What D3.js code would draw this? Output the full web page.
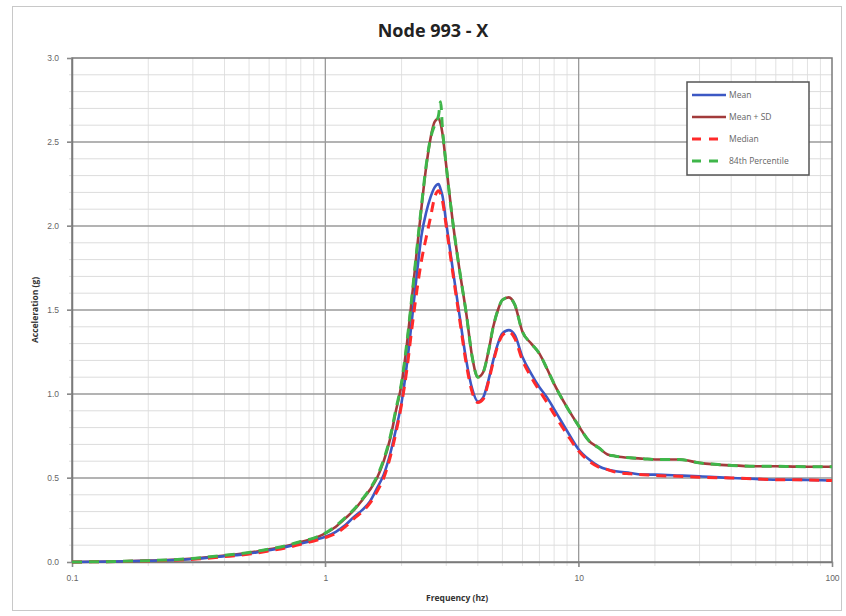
<!DOCTYPE html>
<html><head><meta charset="utf-8">
<script src="https://cdn.jsdelivr.net/npm/d3@7"></script>
<style>
body{margin:0;background:#fff;}
svg{display:block;font-family:"Open Sans","Liberation Sans",sans-serif;}
</style></head>
<body>
<svg id="chart" width="846" height="616"></svg>
<script>
const title = "Node 993 - X";
const xLabel = "Frequency (hz)";
const yLabel = "Acceleration (g)";
const xTickValues = [0.1, 1, 10, 100];
const xTickLabels = ["0.1", "1", "10", "100"];
const yTickValues = [0, 0.5, 1.0, 1.5, 2.0, 2.5, 3.0];
const seriesNames = ["Mean", "Mean + SD", "Median", "84th Percentile"];

const freq = [0.1,0.15,0.2,0.3,0.4,0.5,0.6,0.7,0.8,0.9,1.0,1.1,1.2,1.3,1.4,1.5,1.6,1.7,1.8,1.9,2.0,2.1,2.2,2.3,2.4,2.5,2.6,2.7,2.8,2.85,2.9,3.0,3.2,3.4,3.6,3.8,4.0,4.2,4.4,4.6,4.8,5.0,5.3,5.6,6.0,6.5,7.0,7.5,8.0,9.0,10,11,12,13,14,16,18,20,25,30,40,50,60,70,80,100];

const meanVals = [0,0.003,0.007,0.018,0.035,0.05,0.07,0.09,0.11,0.13,0.15,0.18,0.22,0.27,0.31,0.36,0.44,0.52,0.64,0.79,0.95,1.18,1.45,1.72,1.95,2.08,2.17,2.23,2.25,2.22,2.18,2.02,1.72,1.45,1.2,1.03,0.955,0.98,1.08,1.2,1.3,1.36,1.38,1.35,1.22,1.12,1.04,0.98,0.91,0.78,0.67,0.61,0.57,0.55,0.54,0.53,0.52,0.52,0.515,0.51,0.50,0.495,0.49,0.49,0.488,0.485];

const meanSDVals = [0,0.003,0.008,0.02,0.038,0.055,0.075,0.095,0.12,0.14,0.17,0.21,0.26,0.31,0.37,0.43,0.5,0.6,0.73,0.9,1.06,1.3,1.58,1.86,2.12,2.35,2.52,2.62,2.64,2.61,2.55,2.36,2.0,1.72,1.48,1.22,1.10,1.13,1.25,1.40,1.50,1.56,1.575,1.53,1.37,1.30,1.24,1.15,1.06,0.92,0.81,0.72,0.68,0.64,0.63,0.62,0.615,0.61,0.61,0.59,0.575,0.57,0.57,0.568,0.567,0.567];

const medianVals = [0,0.003,0.006,0.016,0.032,0.047,0.066,0.085,0.105,0.125,0.145,0.17,0.21,0.26,0.30,0.35,0.42,0.50,0.62,0.77,0.94,1.15,1.40,1.62,1.80,1.93,2.05,2.17,2.21,2.19,2.15,2.0,1.70,1.43,1.18,1.01,0.95,0.97,1.07,1.19,1.29,1.35,1.37,1.33,1.20,1.10,1.02,0.95,0.88,0.76,0.66,0.60,0.565,0.55,0.535,0.525,0.52,0.515,0.51,0.505,0.50,0.495,0.49,0.49,0.488,0.485];

const pct84Vals = [0,0.003,0.008,0.021,0.04,0.057,0.077,0.097,0.122,0.142,0.172,0.215,0.265,0.315,0.375,0.435,0.51,0.61,0.74,0.91,1.07,1.31,1.59,1.87,2.13,2.36,2.52,2.60,2.66,2.74,2.58,2.36,2.0,1.72,1.48,1.22,1.10,1.13,1.25,1.40,1.50,1.56,1.575,1.53,1.37,1.30,1.24,1.15,1.06,0.92,0.81,0.72,0.68,0.64,0.63,0.62,0.615,0.61,0.61,0.59,0.575,0.57,0.57,0.568,0.567,0.567];

(function () {
const pL = 72, pR = 832, pT = 58, pB = 562;
const svg = d3.select("#chart");

svg.append("rect").attr("x", 12.5).attr("y", 6.5).attr("width", 829).attr("height", 604)
  .attr("fill", "#fff").attr("stroke", "#c8c8c8").attr("stroke-width", 1);

const x = d3.scaleLog().domain([0.1, 100]).range([pL, pR]);
const y = d3.scaleLinear().domain([0, 3]).range([pB, pT]);

const minorX = [];
[0.1, 1, 10].forEach(d => { for (let k = 2; k <= 9; k++) minorX.push(+(d * k).toFixed(3)); });
const minorY = d3.range(0, 31).map(i => i / 10).filter(v => Math.round(v * 10) % 5 !== 0);

const g = svg.append("g");
g.selectAll(".mx").data(minorX).enter().append("line")
  .attr("x1", d => x(d)).attr("x2", d => x(d)).attr("y1", pT).attr("y2", pB + 4)
  .attr("stroke", "#e2e2e2").attr("stroke-width", 1);
g.selectAll(".my").data(minorY).enter().append("line")
  .attr("x1", pL - 3).attr("x2", pR).attr("y1", d => y(d)).attr("y2", d => y(d))
  .attr("stroke", "#dcdcdc").attr("stroke-width", 1);
g.selectAll(".Mx").data([1, 10]).enter().append("line")
  .attr("x1", d => x(d)).attr("x2", d => x(d)).attr("y1", pT).attr("y2", pB + 5)
  .attr("stroke", "#9a9a9a").attr("stroke-width", 1.3);
g.selectAll(".My").data([0.5, 1.0, 1.5, 2.0, 2.5]).enter().append("line")
  .attr("x1", pL - 5).attr("x2", pR).attr("y1", d => y(d)).attr("y2", d => y(d))
  .attr("stroke", "#9a9a9a").attr("stroke-width", 1.3);

g.append("rect").attr("x", pL).attr("y", pT).attr("width", pR - pL).attr("height", pB - pT)
  .attr("fill", "none").attr("stroke", "#7a7a7a").attr("stroke-width", 1.5);

const yAxis = d3.axisLeft(y).tickValues(yTickValues).tickFormat(d3.format(".1f")).tickSize(5).tickPadding(8);
const ya = svg.append("g").attr("transform", `translate(${pL},0)`).call(yAxis);
const xAxis = d3.axisBottom(x).tickValues(xTickValues).tickFormat((d, i) => xTickLabels[i]).tickSize(5).tickPadding(8);
const xa = svg.append("g").attr("transform", `translate(0,${pB})`).call(xAxis);
[ya, xa].forEach(a => {
  a.select(".domain").attr("stroke", "#7a7a7a").attr("stroke-width", 1.5);
  a.selectAll(".tick line").attr("stroke", "#8a8a8a");
  a.selectAll("text").attr("fill", "#666").attr("font-size", 8.5);
});

const toPts = vals => freq.map((f, i) => [f, vals[i]]);
const line = d3.line().x(d => x(d[0])).y(d => y(d[1])).curve(d3.curveMonotoneX);
const series = [
  {name: seriesNames[1], vals: meanSDVals, color: "#a23b3b", w: 2.6, dash: null},
  {name: seriesNames[0], vals: meanVals, color: "#3c58c4", w: 2.6, dash: null},
  {name: seriesNames[2], vals: medianVals, color: "#ff2a2a", w: 3, dash: "10,7"},
  {name: seriesNames[3], vals: pct84Vals, color: "#3fb64a", w: 3, dash: "10,7"}
];
svg.append("clipPath").attr("id", "clp").append("rect")
  .attr("x", pL).attr("y", pT - 10).attr("width", pR - pL).attr("height", pB - pT + 12);
series.forEach(s => {
  svg.append("path").datum(toPts(s.vals)).attr("d", line)
    .attr("fill", "none").attr("stroke", s.color).attr("stroke-width", s.w)
    .attr("stroke-dasharray", s.dash).attr("clip-path", "url(#clp)");
});

const lg = svg.append("g");
lg.append("rect").attr("x", 687).attr("y", 82).attr("width", 122).attr("height", 93)
  .attr("fill", "#fff").attr("stroke", "#555").attr("stroke-width", 1.5);
const legendItems = [series[1], series[0], series[2], series[3]];
legendItems.forEach((s, i) => {
  const yy = 95 + i * 22;
  lg.append("line").attr("x1", 692).attr("x2", 726).attr("y1", yy).attr("y2", yy)
    .attr("stroke", s.color).attr("stroke-width", s.w).attr("stroke-dasharray", s.dash ? "9,8" : null);
  lg.append("text").attr("x", 729).attr("y", yy + 3).attr("font-size", 8.5).attr("fill", "#666").text(s.name);
});

svg.append("text").attr("x", 433).attr("y", 37).attr("text-anchor", "middle")
  .attr("font-size", 18).attr("font-weight", "bold").attr("fill", "#222").text(title);
svg.append("text").attr("x", 457).attr("y", 601).attr("text-anchor", "middle")
  .attr("font-size", 8.5).attr("font-weight", "bold").attr("fill", "#333").text(xLabel);
svg.append("text").attr("transform", "translate(38,310) rotate(-90)").attr("text-anchor", "middle")
  .attr("font-size", 8.5).attr("font-weight", "bold").attr("fill", "#333").text(yLabel);
})();
</script>
</body></html>
